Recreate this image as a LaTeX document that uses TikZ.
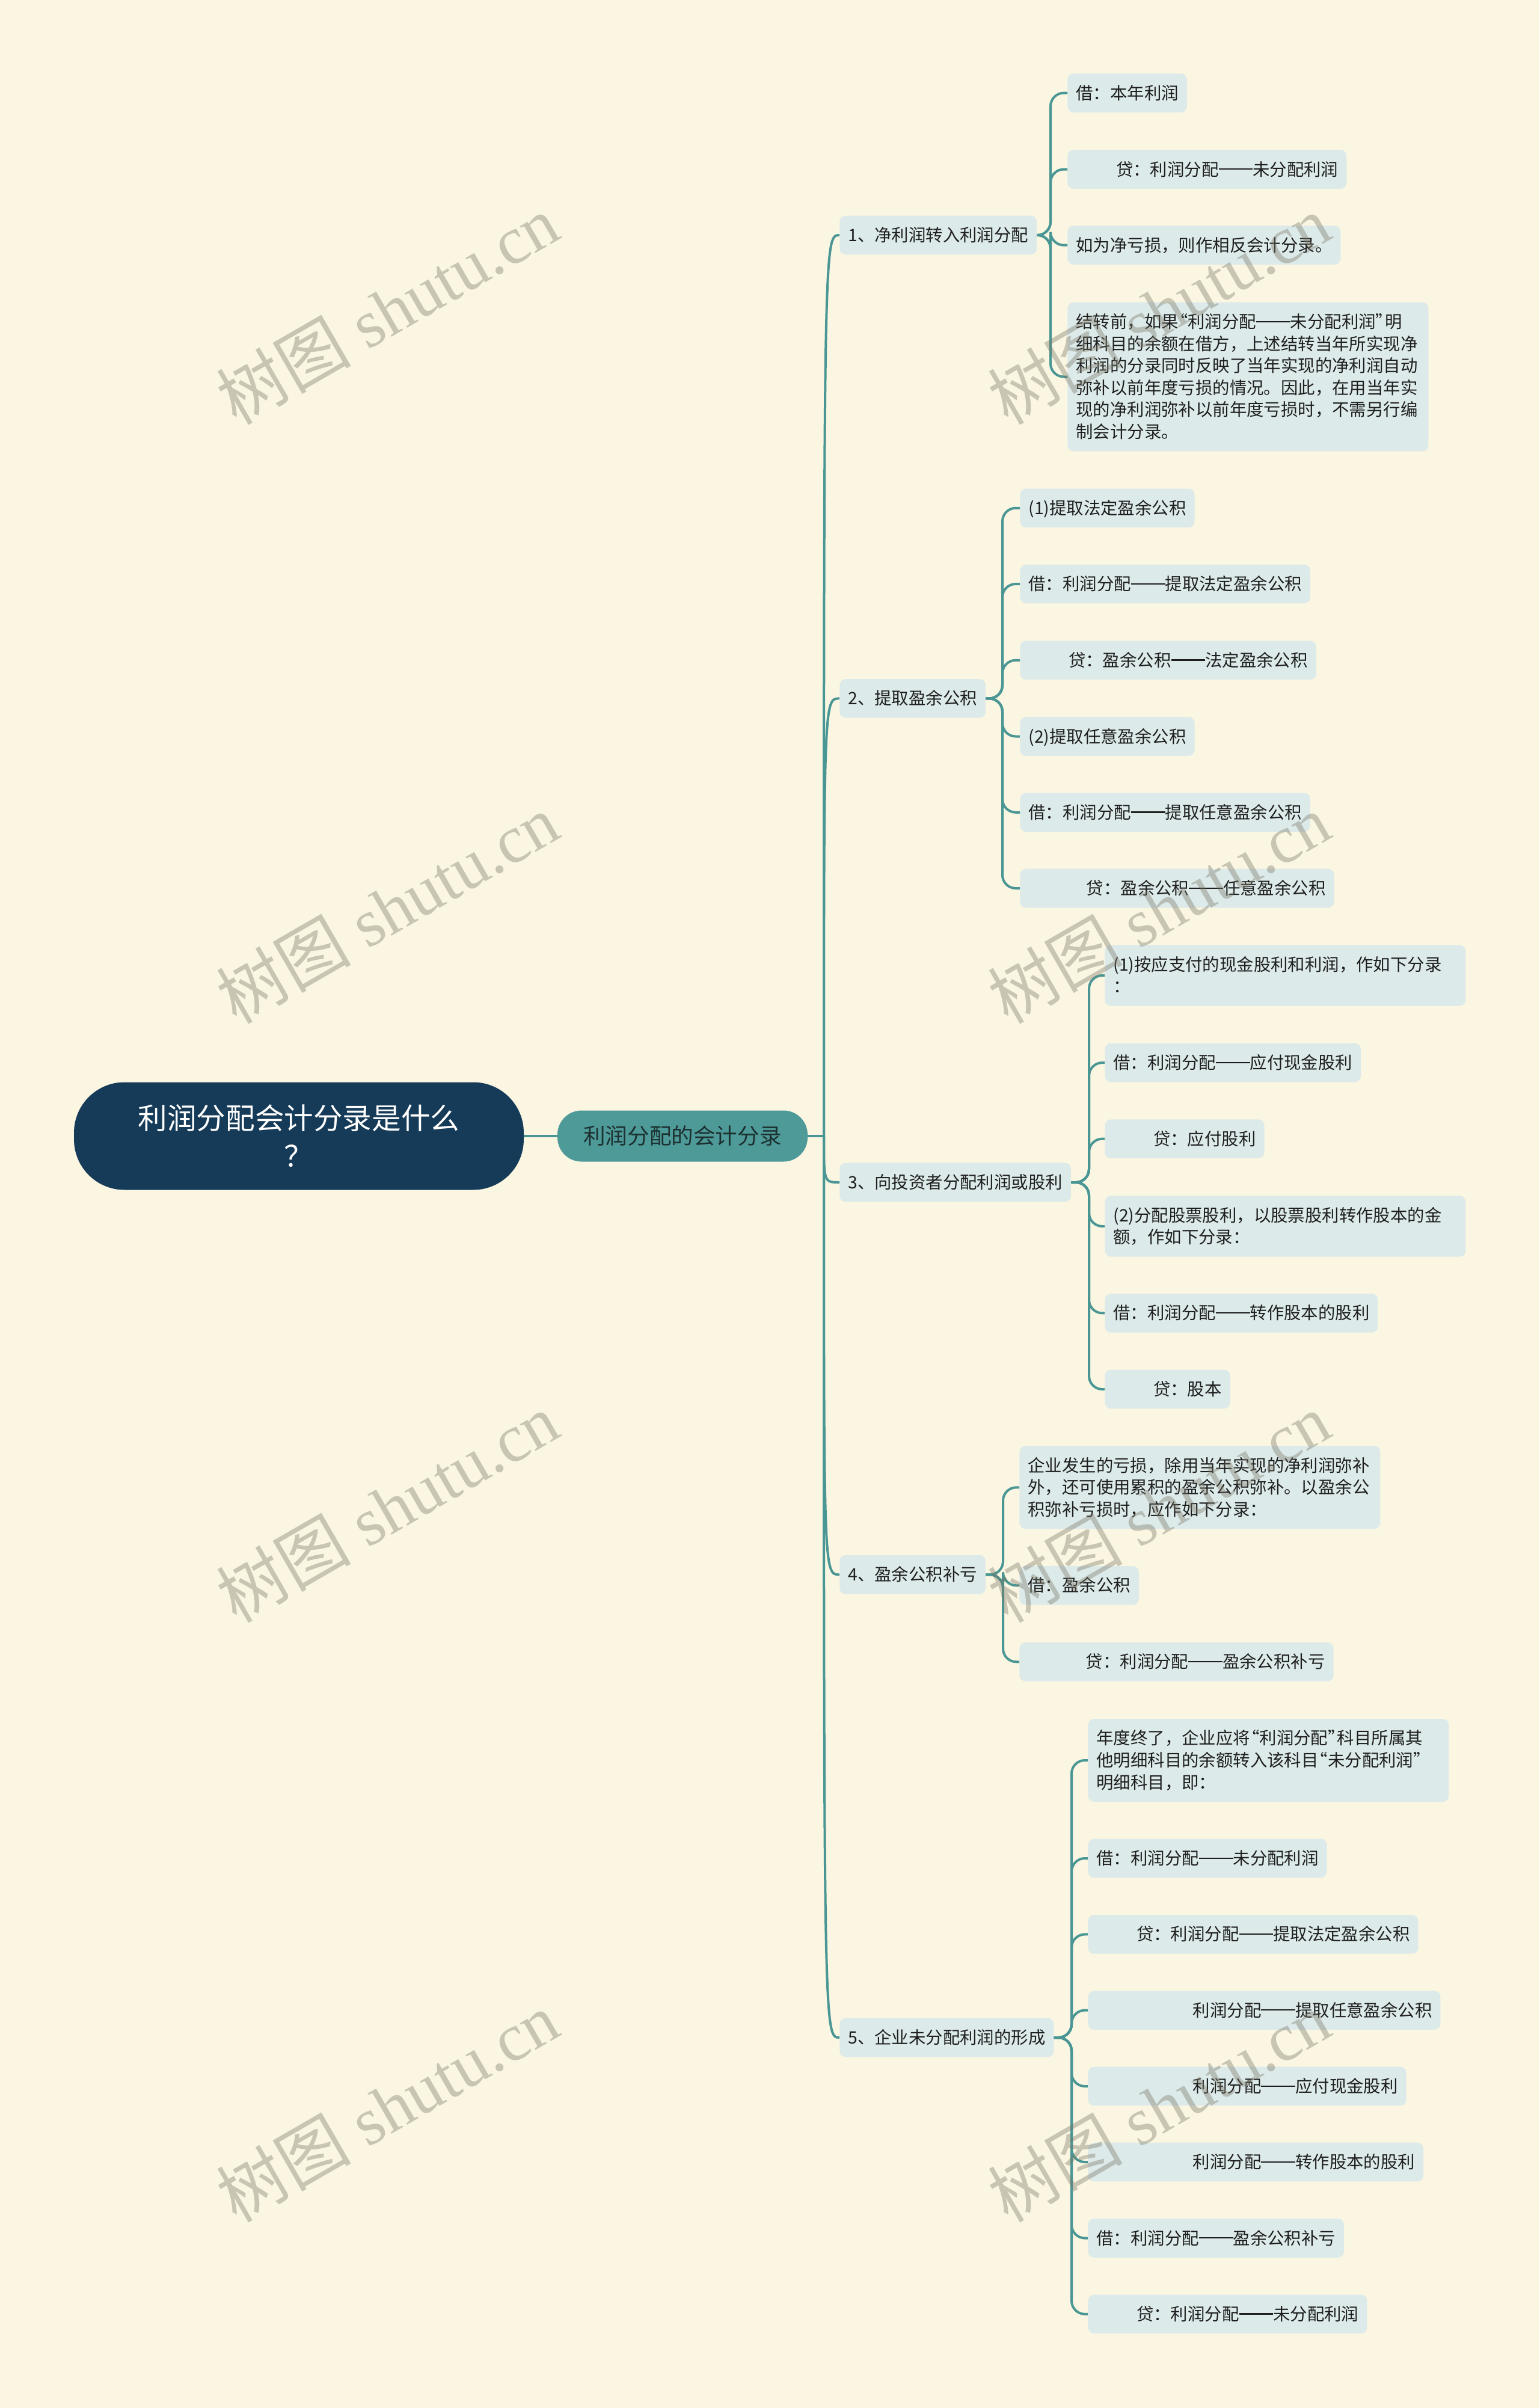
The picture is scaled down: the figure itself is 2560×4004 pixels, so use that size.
\documentclass[tikz,border=0pt]{standalone}
\usepackage{fontspec}
\setmainfont{Noto Sans CJK SC}
\newfontfamily\wmlatin{Liberation Serif}
\newfontfamily\wmcjk{Noto Sans CJK SC}
\definecolor{bgc}{RGB}{250,246,226}
\definecolor{leafc}{RGB}{221,234,234}
\definecolor{linec}{RGB}{74,150,148}
\definecolor{subc}{RGB}{78,154,152}
\definecolor{rootc}{RGB}{22,59,88}
\definecolor{txtc}{RGB}{30,30,30}
\definecolor{subtxt}{RGB}{28,48,48}
\definecolor{wmc}{RGB}{120,118,100}
\newcommand{\mystrut}{\rule[-3.9pt]{0pt}{18.3pt}}
\newcommand{\leaffont}{\fontsize{14.2pt}{18.3pt}\selectfont}
\newcommand{\ia}{\hspace*{2.35em}}
\newcommand{\ib}{\hspace*{3.4em}}
\newcommand{\ic}{\hspace*{5.65em}}
\newcommand{\dd}{\rule[0.345em]{2em}{0.075em}}
\newcommand{\ql}{\makebox[0.55em][r]{“}}
\newcommand{\qr}{\makebox[0.55em][l]{”}}
\tikzset{
  leaf/.style={fill=leafc, rounded corners=5pt, inner xsep=7pt, inner ysep=7pt,
    anchor=west, font=\leaffont, text=txtc,
    execute at begin node=\mystrut, execute at end node=\mystrut},
  para/.style={leaf, text width=286pt, align=left},
  conn/.style={draw=linec, line width=2pt},
  branch/.style={conn, rounded corners=11pt},
  wm/.style={rotate=30, text=wmc, opacity=0.38, inner sep=0pt}
}
\begin{document}
\begin{tikzpicture}[x=0.5pt, y=-0.5pt]
\fill[bgc] (0,0) rectangle (2560,4004);
\useasboundingbox (0,0) rectangle (2560,4004);

% root and sub-root
\node[fill=rootc, rounded corners=42pt, minimum width=374pt, minimum height=89.5pt,
  inner sep=0pt, text=white, align=center, font=\fontsize{24.3pt}{31.5pt}\selectfont]
  (root) at (497,1889) {利润分配会计分录是什么\\？};
\node[fill=subc, rounded corners=20pt, minimum width=208pt, minimum height=42.5pt,
  inner sep=0pt, text=subtxt, font=\fontsize{18.3pt}{22pt}\selectfont]
  (sub) at (1135,1889) {利润分配的会计分录};
\coordinate (trunk) at (1370,1889);

% level 2
\node[leaf] (n1) at (1396,391) {1、净利润转入利润分配};
\node[leaf] (n2) at (1396,1161.4) {2、提取盈余公积};
\node[leaf] (n3) at (1396,1966) {3、向投资者分配利润或股利};
\node[leaf] (n4) at (1396,2618.3) {4、盈余公积补亏};
\node[leaf] (n5) at (1396,3388) {5、企业未分配利润的形成};

\coordinate (s1) at (1747,391);
\coordinate (s2) at (1667,1161.4);
\coordinate (s3) at (1811,1966);
\coordinate (s4) at (1668,2618.3);
\coordinate (s5) at (1782,3388);

% group 1
\node[leaf] (a1) at (1775,154.6) {借：本年利润};
\node[leaf] (a2) at (1775,281.5) {\ia 贷：利润分配\dd 未分配利润};
\node[leaf] (a3) at (1775,407.7) {如为净亏损，则作相反会计分录。};
\node[para] (a4) at (1775,626.5) {结转前，如果\ql 利润分配\dd 未分配利润\qr 明\\细科目的余额在借方，上述结转当年所实现净\\利润的分录同时反映了当年实现的净利润自动\\弥补以前年度亏损的情况。因此，在用当年实\\现的净利润弥补以前年度亏损时，不需另行编\\制会计分录。};

% group 2
\node[leaf] (b1) at (1696,844.8) {(1)提取法定盈余公积};
\node[leaf] (b2) at (1696,971) {借：利润分配\dd 提取法定盈余公积};
\node[leaf] (b3) at (1696,1097.8) {\ia 贷：盈余公积\dd 法定盈余公积};
\node[leaf] (b4) at (1696,1224.5) {(2)提取任意盈余公积};
\node[leaf] (b5) at (1696,1350.8) {借：利润分配\dd 提取任意盈余公积};
\node[leaf] (b6) at (1696,1477) {\ib 贷：盈余公积\dd 任意盈余公积};

% group 3
\node[para] (c1) at (1837,1622) {(1)按应支付的现金股利和利润，作如下分录\\：};
\node[leaf] (c2) at (1837,1767) {借：利润分配\dd 应付现金股利};
\node[leaf] (c3) at (1837,1893.6) {\ia 贷：应付股利};
\node[para] (c4) at (1837,2039) {(2)分配股票股利，以股票股利转作股本的金\\额，作如下分录：};
\node[leaf] (c5) at (1837,2183.4) {借：利润分配\dd 转作股本的股利};
\node[leaf] (c6) at (1837,2310) {\ia 贷：股本};

% group 4
\node[para] (d1) at (1695,2473.3) {企业发生的亏损，除用当年实现的净利润弥补\\外，还可使用累积的盈余公积弥补。以盈余公\\积弥补亏损时，应作如下分录：};
\node[leaf] (d2) at (1695,2636.3) {借：盈余公积};
\node[leaf] (d3) at (1695,2763.3) {\ib 贷：利润分配\dd 盈余公积补亏};

% group 5
\node[para] (e1) at (1809,2927) {年度终了，企业应将\ql 利润分配\qr 科目所属其\\他明细科目的余额转入该科目\ql 未分配利润\qr\\明细科目，即：};
\node[leaf] (e2) at (1809,3090) {借：利润分配\dd 未分配利润};
\node[leaf] (e3) at (1809,3216.4) {\ia 贷：利润分配\dd 提取法定盈余公积};
\node[leaf] (e4) at (1809,3342.6) {\ic 利润分配\dd 提取任意盈余公积};
\node[leaf] (e5) at (1809,3469) {\ic 利润分配\dd 应付现金股利};
\node[leaf] (e6) at (1809,3595) {\ic 利润分配\dd 转作股本的股利};
\node[leaf] (e7) at (1809,3721.5) {借：利润分配\dd 盈余公积补亏};
\node[leaf] (e8) at (1809,3847.8) {\ia 贷：利润分配\dd 未分配利润};

% connectors
\draw[conn] (root.east) -- (sub.west);
\draw[conn] (sub.east) -- (trunk);
\foreach \n in {n1,n2,n3,n4,n5}
  \draw[conn] (trunk) .. controls (trunk |- \n.west) and (trunk |- \n.west) .. (\n.west);
\foreach \l in {a1,a2,a3,a4} \draw[branch] (n1.east) -- (s1) |- (\l.west);
\foreach \l in {b1,b2,b3,b4,b5,b6} \draw[branch] (n2.east) -- (s2) |- (\l.west);
\foreach \l in {c1,c2,c3,c4,c5,c6} \draw[branch] (n3.east) -- (s3) |- (\l.west);
\foreach \l in {d1,d2,d3} \draw[branch] (n4.east) -- (s4) |- (\l.west);
\foreach \l in {e1,e2,e3,e4,e5,e6,e7,e8} \draw[branch] (n5.east) -- (s5) |- (\l.west);

% watermarks
\foreach \wx/\wy [count=\i] in {644/515, 644/1511, 644/2507, 644/3503, 1927/515, 1927/1511, 1927/2507, 1927/3503}
  \node[wm] (wm\i) at (\wx,\wy) {\fontsize{56pt}{60pt}\selectfont\wmcjk 树图\wmlatin{} shutu.cn};
\end{tikzpicture}
\end{document}
